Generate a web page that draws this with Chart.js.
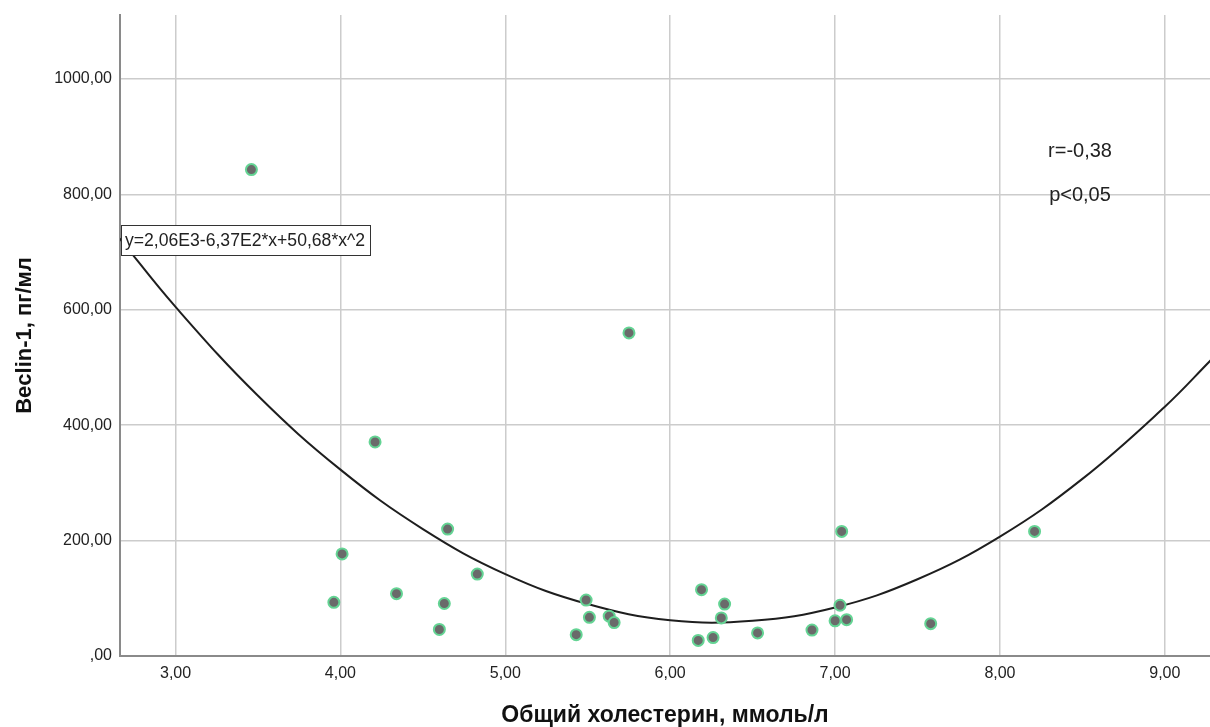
<!DOCTYPE html>
<html>
<head>
<meta charset="utf-8">
<script src="https://cdn.jsdelivr.net/npm/chart.js@4.4.1/dist/chart.umd.min.js"></script>
<style>
  body { margin: 0; background: #fff; }
</style>
</head>
<body>
<canvas id="myChart" width="1210" height="727"></canvas>
<script>
// Общий холестерин (x) and Beclin-1 (y), one pair per patient
const cholesterol = [3.46, 3.96, 4.01, 4.21, 4.34, 4.60, 4.63, 4.65, 4.83, 5.43, 5.49, 5.51, 5.63, 5.66,
                     5.75, 6.17, 6.19, 6.26, 6.31, 6.33, 6.53, 6.86, 7.00, 7.03, 7.04, 7.07, 7.58, 8.21];
const beclin = [843, 93, 177, 371, 108, 46, 91, 220, 142, 37, 97, 67, 69, 58,
                560, 27, 115, 32, 66, 90, 40, 45, 61, 88, 216, 63, 56, 216];

// quadratic fit line
const fitX = [2.66, 3.0, 3.5, 4.0, 4.5, 5.0, 5.5, 6.0, 6.5, 7.0, 7.5, 8.0, 8.5, 9.0, 9.28];
const fitY = [724, 605, 451, 323, 220, 142, 90, 62, 61, 84, 133, 207, 307, 432, 513];

const xTicks = [3, 4, 5, 6, 7, 8, 9];
const yTicks = [0, 200, 400, 600, 800, 1000];

const fitLabel = "y=2,06E3-6,37E2*x+50,68*x^2";
const statLabels = ["r=-0,38", "p<0,05"];

const FONT = "'Liberation Sans', Arial, sans-serif";
Chart.defaults.font.family = FONT;
Chart.defaults.color = "#222";

// SPSS style numbers: 2 decimals, comma, and ",00" for zero
const fmt = v => v === 0 ? ",00" : v.toFixed(2).replace(".", ",");

// fit equation box and r / p text
const notes = {
    id: "notes",
    afterDatasetsDraw(chart) {
        const c = chart.ctx;
        c.save();
        c.fillStyle = "#fff";
        c.fillRect(121.5, 225.5, 249, 30);
        c.strokeStyle = "#333";
        c.lineWidth = 1;
        c.strokeRect(121.5, 225.5, 249, 30);
        c.fillStyle = "#222";
        c.font = "17.6px " + FONT;
        c.textBaseline = "middle";
        c.textAlign = "left";
        c.fillText(fitLabel, 125, 241);

        c.font = "20px " + FONT;
        c.textAlign = "center";
        c.fillText(statLabels[0], 1080, 151);
        c.fillText(statLabels[1], 1080, 195);
        c.restore();
    }
};

const ctx = document.getElementById("myChart").getContext("2d");
const chart = new Chart(ctx, {
    type: "scatter",
    data: {
        datasets: [
            {
                type: "scatter",
                data: cholesterol.map((x, i) => ({ x: x, y: beclin[i] })),
                pointRadius: 5.5,
                pointBackgroundColor: "#6a6a6a",
                pointBorderColor: "#64d494",
                pointBorderWidth: 2,
                order: 0
            },
            {
                type: "line",
                data: fitX.map((x, i) => ({ x: x, y: fitY[i] })),
                borderColor: "#1e1e1e",
                borderWidth: 2,
                pointRadius: 0,
                tension: 0.4,
                fill: false,
                order: 1
            }
        ]
    },
    options: {
        responsive: false,
        animation: false,
        layout: { autoPadding: false, padding: { top: 15, right: 0, bottom: 0, left: 0 } },
        plugins: {
            legend: { display: false },
            tooltip: { enabled: false }
        },
        scales: {
            x: {
                type: "linear",
                min: 2.663,
                max: 9.274,
                afterBuildTicks: s => { s.ticks = xTicks.map(v => ({ value: v })); },
                afterFit: s => { s.height = 71; s.paddingLeft = 0; s.paddingRight = 0; },
                ticks: { padding: 8, font: { size: 16 }, callback: fmt },
                grid: { color: "#cccccc", lineWidth: 1.5, drawTicks: false },
                border: { color: "#8a8a8a", width: 2 },
                title: {
                    display: true,
                    text: "Общий холестерин, ммоль/л",
                    font: { size: 23, weight: "bold", lineHeight: 1 },
                    padding: { top: 0, bottom: 0 },
                    color: "#111"
                }
            },
            y: {
                min: 0,
                max: 1111,
                afterBuildTicks: s => { s.ticks = yTicks.map(v => ({ value: v })); },
                afterFit: s => { s.width = 120; s.paddingTop = 0; s.paddingBottom = 0; },
                ticks: { padding: 8, font: { size: 16 }, callback: fmt },
                grid: { color: "#cccccc", lineWidth: 1.5, drawTicks: false },
                border: { color: "#8a8a8a", width: 2 },
                title: {
                    display: true,
                    text: "Beclin-1, пг/мл",
                    font: { size: 22, weight: "bold", lineHeight: 1 },
                    padding: { top: 14, bottom: 0 },
                    color: "#111"
                }
            }
        }
    },
    plugins: [notes]
});
</script>
</body>
</html>
